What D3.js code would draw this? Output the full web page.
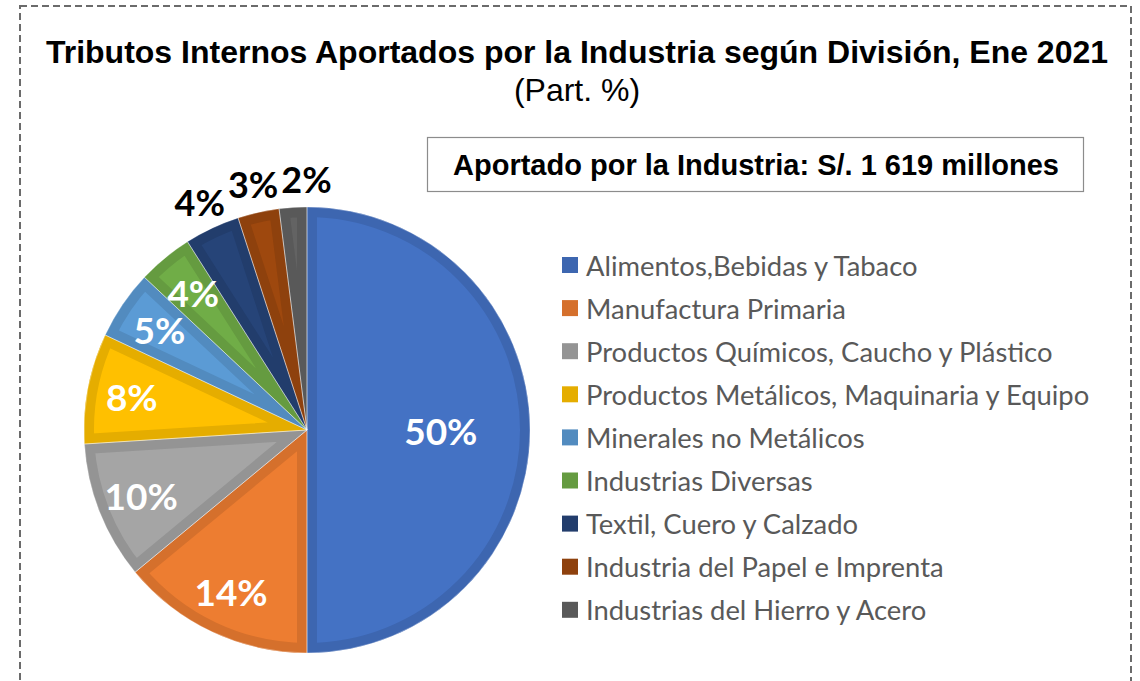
<!DOCTYPE html>
<html lang="es">
<head>
<meta charset="UTF-8">
<title>Tributos Internos Aportados por la Industria</title>
<script src="https://cdnjs.cloudflare.com/ajax/libs/d3/7.8.5/d3.min.js"></script>
<style>
  html, body { margin: 0; padding: 0; background: #fff; }
  svg { display: block; }
</style>
</head>
<body>
<svg id="chart" width="1140" height="681"></svg>
<script>
// datos
const categorias = [
  "Alimentos,Bebidas y Tabaco",
  "Manufactura Primaria",
  "Productos Químicos, Caucho y Plástico",
  "Productos Metálicos, Maquinaria y Equipo",
  "Minerales no Metálicos",
  "Industrias Diversas",
  "Textil, Cuero y Calzado",
  "Industria del Papel e Imprenta",
  "Industrias del Hierro y Acero"
];
const participacion = [50, 14, 10, 8, 5, 4, 4, 3, 2];
const etiquetaFuera = [false, false, false, false, false, false, true, true, true];
const colores = ["#4472C4", "#ED7D31", "#A5A5A5", "#FFC000", "#5B9BD5", "#70AD47", "#264478", "#9E480E", "#636363"];

const titulo = "Tributos Internos Aportados por la Industria según División, Ene 2021";
const subtitulo = "(Part. %)";
const recuadro = "Aportado por la Industria: S/. 1 619 millones";

const svg = d3.select("#chart");

// marco punteado
svg.append("rect")
  .attr("x", 20).attr("y", 6)
  .attr("width", 1111).attr("height", 700)
  .attr("fill", "none")
  .attr("stroke", "#6b6b6b")
  .attr("stroke-width", 2)
  .attr("stroke-dasharray", "7,4");

// títulos
svg.append("text")
  .attr("x", 577).attr("y", 63)
  .attr("text-anchor", "middle")
  .attr("font-family", "'Liberation Sans', Arial, sans-serif")
  .attr("font-weight", "bold")
  .attr("font-size", 32)
  .attr("fill", "#000")
  .text(titulo);

svg.append("text")
  .attr("x", 577).attr("y", 101)
  .attr("text-anchor", "middle")
  .attr("font-family", "'Liberation Sans', Arial, sans-serif")
  .attr("font-size", 32)
  .attr("fill", "#000")
  .text(subtitulo);

// recuadro del total
svg.append("rect")
  .attr("x", 427.5).attr("y", 137.5)
  .attr("width", 656).attr("height", 54)
  .attr("fill", "#fff")
  .attr("stroke", "#8c8c8c")
  .attr("stroke-width", 1.2);

svg.append("text")
  .attr("x", 756).attr("y", 175)
  .attr("text-anchor", "middle")
  .attr("font-family", "'Liberation Sans', Arial, sans-serif")
  .attr("font-weight", "bold")
  .attr("font-size", 29)
  .attr("fill", "#000")
  .text(recuadro);

// pastel
const cx = 307, cy = 430, radio = 223;
const color = d3.scaleOrdinal().domain(categorias).range(colores);
const borde = c => d3.color(c).darker(0.3).formatHex();

const datos = categorias.map((c, i) => ({ cat: c, valor: participacion[i], fuera: etiquetaFuera[i] }));
const pie = d3.pie().sort(null).value(d => d.valor);
const arcs = pie(datos);
const arc = d3.arc().innerRadius(0).outerRadius(radio);

const g = svg.append("g").attr("transform", `translate(${cx},${cy})`);
const defs = svg.append("defs");

arcs.forEach((a, i) => {
  defs.append("clipPath").attr("id", "clip" + i)
    .append("path").attr("d", arc(a));
});

g.selectAll("path.slice")
  .data(arcs)
  .join("path")
  .attr("class", "slice")
  .attr("d", arc)
  .attr("fill", d => color(d.data.cat))
  .attr("stroke", d => borde(color(d.data.cat)))
  .attr("stroke-width", 20)
  .attr("stroke-linejoin", "miter")
  .attr("clip-path", (d, i) => `url(#clip${i})`);

// líneas finas de separación
g.selectAll("path.sep")
  .data(arcs)
  .join("path")
  .attr("class", "sep")
  .attr("d", arc)
  .attr("fill", "none")
  .attr("stroke", "#fff")
  .attr("stroke-opacity", 0.45)
  .attr("stroke-width", 0.8);

// etiquetas
const arcInterior = d3.arc().innerRadius(radio * 0.8).outerRadius(radio * 0.8);
const arcMitad = d3.arc().innerRadius(radio * 0.6).outerRadius(radio * 0.6);
const arcExterior = d3.arc().innerRadius(radio * 1.13).outerRadius(radio * 1.13);

const pct = d => d.data.valor + "%";

const etiquetas = g.selectAll("text.lbl")
  .data(arcs)
  .join("text")
  .attr("class", "lbl")
  .attr("text-anchor", "middle")
  .attr("dominant-baseline", "central")
  .attr("font-family", "Lato, 'Open Sans', sans-serif")
  .attr("font-weight", "bold")
  .attr("font-size", d => d.data.fuera ? 36 : 37)
  .attr("fill", d => d.data.fuera ? "#000" : "#fff")
  .text(pct)
  .each(function (d) {
    const ref = d.data.fuera ? arcExterior : (d.endAngle - d.startAngle > 2.5 ? arcMitad : arcInterior);
    const [x, y] = ref.centroid(d);
    d.lx = x; d.ly = y;
  })
  .attr("x", d => d.lx)
  .attr("y", d => d.ly);

// evitar solapamiento de las etiquetas exteriores (de izquierda a derecha)
let limite = null;
etiquetas.filter(d => d.data.fuera).each(function (d) {
  const w = this.getComputedTextLength();
  if (limite !== null && d.lx - w / 2 < limite + 3) d.lx = limite + 3 + w / 2;
  limite = d.lx + w / 2;
  d3.select(this).attr("x", d.lx);
});

// leyenda
const leyenda = svg.append("g").attr("transform", "translate(562,265)");
const paso = 43.1;
const items = leyenda.selectAll("g")
  .data(categorias)
  .join("g")
  .attr("transform", (d, i) => `translate(0,${i * paso})`);

items.append("rect")
  .attr("x", 0).attr("y", -8)
  .attr("width", 16).attr("height", 16)
  .attr("fill", d => borde(color(d)));

items.append("text")
  .attr("x", 24).attr("y", 0)
  .attr("dominant-baseline", "central")
  .attr("font-family", "Lato, 'Open Sans', sans-serif")
  .attr("font-size", 27.4)
  .attr("fill", "#595959")
  .text(d => d);
</script>
</body>
</html>
